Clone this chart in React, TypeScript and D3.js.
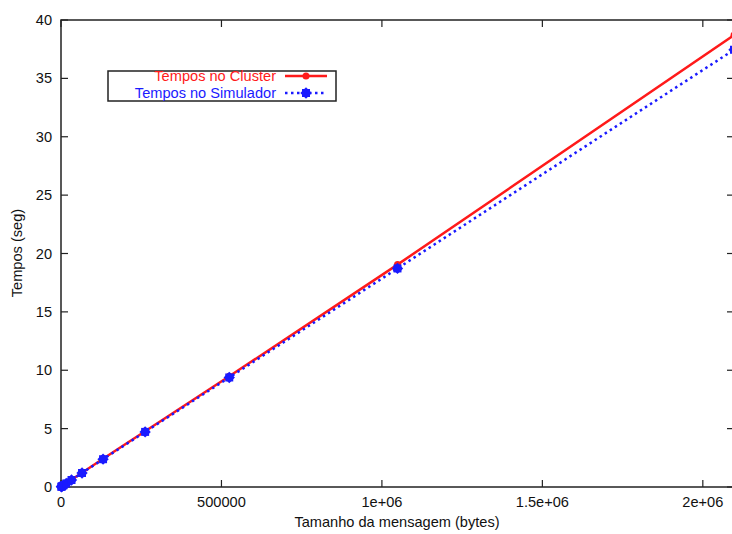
import React, { useEffect, useRef } from 'react';
import * as d3 from 'd3';

// message sizes (bytes) and measured times (seconds)
const sizes = [1024, 2048, 4096, 8192, 16384, 32768, 65536, 131072, 262144, 524288, 1048576, 2097152];
const cluster = [0.02, 0.04, 0.08, 0.16, 0.31, 0.62, 1.22, 2.42, 4.78, 9.48, 19.05, 38.7];
const simulador = [0.02, 0.04, 0.08, 0.15, 0.3, 0.6, 1.2, 2.38, 4.72, 9.38, 18.72, 37.45];
const xTicks = [0, 500000, 1000000, 1500000, 2000000];
const xTickLabels = ['0', '500000', '1e+06', '1.5e+06', '2e+06'];
const yTicks = [0, 5, 10, 15, 20, 25, 30, 35, 40];

const W = 732;
const H = 534;

export default function App() {
  const ref = useRef<SVGSVGElement>(null);

  useEffect(() => {
    const svg = d3.select(ref.current);
    svg.selectAll('*').remove();

    const left = 61, top = 20, bottom = 487;
    const x = d3.scaleLinear().domain([0, 2097152]).range([left, 734]);
    const y = d3.scaleLinear().domain([0, 40]).range([bottom, top]);
    const axisColor = '#222';
    const font = 'Liberation Sans, Arial, sans-serif';
    const fs = 14.6;

    // frame
    svg.append('rect')
      .attr('x', left).attr('y', top)
      .attr('width', x.range()[1] - left).attr('height', bottom - top)
      .attr('fill', 'none').attr('stroke', axisColor).attr('stroke-width', 1.5);

    // y ticks (both sides)
    yTicks.forEach(t => {
      const yy = y(t);
      svg.append('line').attr('x1', left).attr('x2', left + 7).attr('y1', yy).attr('y2', yy)
        .attr('stroke', axisColor).attr('stroke-width', 1.2);
      svg.append('line').attr('x1', x.range()[1] - 7).attr('x2', x.range()[1]).attr('y1', yy).attr('y2', yy)
        .attr('stroke', axisColor).attr('stroke-width', 1.2);
      svg.append('text').attr('x', 52).attr('y', yy + 5)
        .attr('text-anchor', 'end').attr('font-family', font).attr('font-size', fs)
        .attr('fill', '#111').text(String(t));
    });

    // x ticks (both sides)
    xTicks.forEach((t, i) => {
      const xx = x(t);
      svg.append('line').attr('x1', xx).attr('x2', xx).attr('y1', bottom).attr('y2', bottom - 7)
        .attr('stroke', axisColor).attr('stroke-width', 1.2);
      svg.append('line').attr('x1', xx).attr('x2', xx).attr('y1', top).attr('y2', top + 7)
        .attr('stroke', axisColor).attr('stroke-width', 1.2);
      svg.append('text').attr('x', xx).attr('y', 507)
        .attr('text-anchor', 'middle').attr('font-family', font).attr('font-size', fs)
        .attr('fill', '#111').text(xTickLabels[i]);
    });

    // axis labels
    svg.append('text').attr('x', 397).attr('y', 527)
      .attr('text-anchor', 'middle').attr('font-family', font).attr('font-size', fs)
      .attr('fill', '#111').text('Tamanho da mensagem (bytes)');
    svg.append('text').attr('transform', 'translate(22,253) rotate(-90)')
      .attr('text-anchor', 'middle').attr('font-family', font).attr('font-size', fs)
      .attr('fill', '#111').text('Tempos (seg)');

    const g = svg.append('g');
    const line = d3.line<number>().x((_, i) => x(sizes[i])).y(d => y(d));

    // cluster series
    g.append('path').datum(cluster).attr('d', line)
      .attr('fill', 'none').attr('stroke', '#ff1a1a').attr('stroke-width', 2.5);
    g.selectAll('.cp').data(cluster).enter().append('circle')
      .attr('cx', (_, i) => x(sizes[i])).attr('cy', d => y(d)).attr('r', 3.5)
      .attr('fill', '#ff1a1a');

    // simulator series
    g.append('path').datum(simulador).attr('d', line)
      .attr('fill', 'none').attr('stroke', '#1a1aff').attr('stroke-width', 2.5)
      .attr('stroke-dasharray', '2.5,3.5');
    const sq = d3.symbol().type(d3.symbolSquare).size(64);
    g.selectAll('.sp').data(simulador).enter().append('path')
      .attr('d', sq)
      .attr('transform', (d, i) => `translate(${x(sizes[i])},${y(d)}) rotate(45)`)
      .attr('fill', '#1a1aff');
    g.selectAll('.sp2').data(simulador).enter().append('path')
      .attr('d', sq)
      .attr('transform', (d, i) => `translate(${x(sizes[i])},${y(d)})`)
      .attr('fill', '#1a1aff');

    // legend
    const lg = svg.append('g');
    lg.append('rect').attr('x', 108).attr('y', 71).attr('width', 228).attr('height', 30)
      .attr('fill', 'white').attr('stroke', axisColor).attr('stroke-width', 1.5);
    lg.append('text').attr('x', 276).attr('y', 81).attr('text-anchor', 'end')
      .attr('font-family', font).attr('font-size', fs).attr('fill', '#ff1a1a').text('Tempos no Cluster');
    lg.append('text').attr('x', 276).attr('y', 98).attr('text-anchor', 'end')
      .attr('font-family', font).attr('font-size', fs).attr('fill', '#1a1aff').text('Tempos no Simulador');
    lg.append('line').attr('x1', 285).attr('x2', 327).attr('y1', 76).attr('y2', 76)
      .attr('stroke', '#ff1a1a').attr('stroke-width', 2.5);
    lg.append('circle').attr('cx', 306).attr('cy', 76).attr('r', 3.5).attr('fill', '#ff1a1a');
    lg.append('line').attr('x1', 285).attr('x2', 327).attr('y1', 93).attr('y2', 93)
      .attr('stroke', '#1a1aff').attr('stroke-width', 2.5).attr('stroke-dasharray', '2.5,3.5');
    lg.append('path').attr('d', sq).attr('transform', 'translate(306,93) rotate(45)').attr('fill', '#1a1aff');
    lg.append('path').attr('d', sq).attr('transform', 'translate(306,93)').attr('fill', '#1a1aff');
  }, []);

  return (
    <svg ref={ref} width={W} height={H}
      style={{ position: 'absolute', left: 0, top: 0, background: 'white' }} />
  );
}
